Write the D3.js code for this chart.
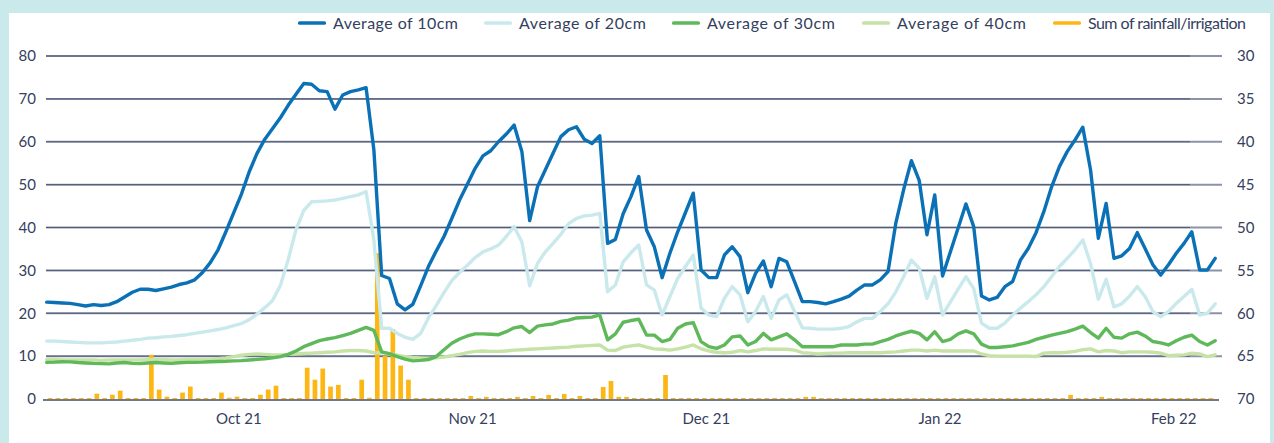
<!DOCTYPE html>
<html>
<head>
<meta charset="utf-8">
<script src="https://cdn.jsdelivr.net/npm/d3@7"></script>
<style>
  body { margin: 0; background: #c9e9ea; }
  svg { display: block; font-family: Lato, "Noto Sans", sans-serif; }
</style>
</head>
<body>
<svg id="chart" width="1274" height="443"></svg>
<script>
// soil moisture readings, one value per reading (151 readings)
let m10 = [
  22.6,22.5,22.4,22.3,22.0,21.7,22.0,21.8,22.0,22.7,
  23.8,24.9,25.6,25.6,25.3,25.7,26.1,26.7,27.1,27.8,
  29.5,31.8,34.8,39.0,43.4,47.8,53.0,57.3,60.6,63.1,
  65.6,68.5,71.1,73.6,73.4,71.9,71.7,67.6,70.9,71.7,
  72.1,72.6,58.1,28.8,28.1,22.2,20.8,22.1,26.4,30.9,
  34.5,37.9,42.1,46.4,50.1,53.8,56.7,57.9,60.0,61.8,
  63.9,57.7,41.6,49.5,53.4,57.3,61.2,62.8,63.5,60.6,
  59.6,61.4,36.3,37.2,43.2,47.2,51.9,39.4,35.5,28.3,
  34.0,39.0,43.5,48.0,30.1,28.3,28.3,33.6,35.5,33.2,
  24.8,29.3,32.2,26.2,32.8,32.0,27.4,22.7,22.7,22.5,
  22.2,22.7,23.3,24.0,25.4,26.6,26.6,27.8,29.7,41.0,
  48.8,55.6,51.0,38.3,47.6,28.7,34.3,39.9,45.5,40.2,
  24.0,23.1,23.7,26.2,27.4,32.4,35.1,38.8,43.7,49.5,
  54.2,57.7,60.4,63.4,53.4,37.5,45.6,32.8,33.4,35.1,
  38.8,35.1,31.3,28.9,31.3,34.0,36.3,39.0,30.1,30.1,
  32.8
]
let m20 = [
  13.5,13.5,13.4,13.3,13.2,13.1,13.1,13.1,13.2,13.3,
  13.5,13.7,13.9,14.2,14.3,14.5,14.6,14.8,15.0,15.3,
  15.6,15.9,16.2,16.6,17.1,17.6,18.5,19.8,21.3,23.0,
  26.5,32.5,39.5,44.0,46.0,46.1,46.2,46.4,46.8,47.2,
  47.6,48.4,37.1,16.5,16.5,15.3,14.4,13.9,15.3,18.9,
  21.8,24.8,27.6,29.5,31.2,33.0,34.3,35.0,35.9,37.9,
  40.2,36.6,26.4,31.6,34.3,36.3,38.4,40.9,42.1,42.7,
  42.9,43.3,25.0,26.6,32.0,34.1,35.9,26.6,25.4,19.6,
  23.9,28.1,30.9,33.6,21.2,19.6,19.2,23.5,26.2,24.3,
  18.0,20.4,23.9,18.8,23.1,24.3,20.4,16.6,16.5,16.3,
  16.3,16.3,16.5,16.9,18.0,18.8,18.8,20.4,22.2,25.0,
  28.5,32.4,30.5,23.5,28.5,19.6,22.6,25.6,28.5,25.8,
  17.7,16.5,16.5,17.7,19.6,21.2,22.7,24.3,26.2,28.5,
  30.9,32.8,34.8,37.1,31.6,23.3,27.9,21.5,22.2,24.0,
  26.2,23.9,20.4,19.2,20.4,22.3,23.9,25.6,19.6,20.0,
  22.2
]
let m30 = [
  8.55,8.6,8.7,8.65,8.5,8.4,8.3,8.25,8.2,8.4,
  8.5,8.3,8.25,8.4,8.5,8.4,8.3,8.45,8.55,8.55,
  8.6,8.7,8.75,8.8,8.9,8.95,9.1,9.25,9.4,9.6,
  9.9,10.4,11.2,12.2,12.9,13.6,14.0,14.3,14.8,15.3,
  16.0,16.7,16.0,11.0,10.6,9.9,9.3,8.9,9.0,9.2,
  9.9,11.5,13.0,14.0,14.7,15.2,15.2,15.1,15.0,15.7,
  16.6,16.9,15.5,17.0,17.3,17.5,18.1,18.4,18.9,19.0,
  19.1,19.6,13.8,15.2,17.9,18.3,18.6,14.9,14.9,13.4,
  13.9,16.5,17.5,17.8,13.4,12.2,11.8,12.6,14.5,14.7,
  12.6,13.4,15.3,13.8,14.5,15.2,13.8,12.2,12.2,12.2,
  12.2,12.2,12.6,12.6,12.6,12.8,12.8,13.4,13.9,14.7,
  15.3,15.8,15.3,13.8,15.7,13.4,13.9,15.2,15.9,15.2,
  12.8,12.0,12.0,12.2,12.4,12.8,13.2,13.9,14.4,14.9,
  15.3,15.7,16.3,17.0,15.5,14.2,16.5,14.4,14.2,15.2,
  15.6,14.7,13.4,13.1,12.6,13.6,14.4,14.9,13.4,12.6,
  13.6
]
let m40 = [
  9.2,9.2,9.1,9.1,9.1,9.1,9.1,9.0,9.1,9.1,
  9.1,9.1,9.1,9.2,9.2,9.2,9.1,9.1,9.2,9.2,
  9.2,9.3,9.4,9.6,9.9,10.2,10.4,10.5,10.4,10.3,
  10.3,10.4,10.5,10.6,10.7,10.8,10.9,11.0,11.2,11.3,
  11.3,11.2,10.8,10.8,10.5,10.2,9.9,9.7,9.6,9.5,
  9.6,9.8,10.1,10.4,10.8,11.1,11.2,11.1,11.1,11.2,
  11.4,11.5,11.6,11.7,11.8,11.9,12.0,12.1,12.3,12.4,
  12.5,12.6,11.4,11.3,12.1,12.4,12.6,12.1,11.7,11.6,
  11.4,11.7,12.1,12.6,11.7,11.2,10.9,10.8,10.9,11.3,
  11.0,11.3,11.7,11.6,11.6,11.6,11.4,10.8,10.7,10.5,
  10.6,10.7,10.7,10.8,10.8,10.8,10.8,10.8,10.9,11.0,
  11.2,11.4,11.4,11.2,11.4,11.2,11.2,11.2,11.2,11.2,
  10.5,10.1,10.0,10.0,10.0,10.0,10.0,9.9,10.7,10.8,
  10.8,10.9,11.1,11.5,11.7,11.0,11.3,11.2,10.8,11.0,
  11.0,11.0,10.9,10.7,10.1,10.2,10.3,10.7,10.5,9.9,
  10.3
]
// daily rainfall / irrigation (150 days)
let rain = [
  0,0,0,0,0,0,1.25,0,1.0,1.95,
  0,0,0,10.3,2.2,0.55,0,1.5,2.9,0,
  0,0,1.5,0.3,0.55,0,0,1.0,2.2,3.1,
  0,0,0,7.3,4.5,7.1,2.9,3.3,0,0,
  4.5,0.3,34,10.1,16.3,7.8,4.5,0,0,0,
  0,0,0,0,0.7,0,0.5,0.25,0.25,0,
  0.5,0,0.7,0,0.95,0,1.15,0,0.7,0,
  0,2.8,4.2,0.5,0.5,0.25,0,0,0,5.6,
  0,0,0.25,0,0,0.25,0.25,0,0,0,
  0,0,0,0.25,0,0.25,0,0.5,0.5,0,
  0,0,0,0,0,0,0,0,0,0,
  0,0,0,0,0,0,0,0,0,0,
  0.25,0,0,0.25,0,0.25,0,0,0,0,
  0,0.95,0,0,0,0.5,0,0,0,0.25,
  0,0,0.25,0,0,0,0,0,0,0.25
]

let month_ticks = [24, 54, 84, 114, 144]
let month_labels = ["Oct 21", "Nov 21", "Dec 21", "Jan 22", "Feb 22"]
let left_ticks = [0, 10, 20, 30, 40, 50, 60, 70, 80]
let right_ticks = [30, 35, 40, 45, 50, 55, 60, 65, 70]
let series_names = ["Average of 10cm", "Average of 20cm", "Average of 30cm", "Average of 40cm"]
let rain_name = "Sum of rainfall/irrigation"

let colors = {m10: "#0a71b6", m20: "#c9e9ec", m30: "#5fb95a", m40: "#c6e2a6", rain: "#fcb714"}
let text_color = "#34405e"

let plot = {left: 46.7, right: 1215.2, top: 56, bottom: 399}

function make_scales() {
  return {
    x: d3.scaleLinear().domain([0, m10.length - 1]).range([plot.left, plot.right]),
    band: d3.scaleBand().domain(d3.range(rain.length)).range([plot.left - 0.5, plot.right - 0.5]).paddingInner(0.4).paddingOuter(0.2),
    y: d3.scaleLinear().domain([0, 80]).range([plot.bottom, plot.top]),
    y2: d3.scaleLinear().domain([30, 70]).range([plot.top, plot.bottom])
  }
}

function draw_frame(svg) {
  svg.append("rect")
    .attr("x", 9).attr("y", 13)
    .attr("width", 1261).attr("height", 430)
    .attr("fill", "#ffffff")
}

function draw_grid(svg, scales) {
  let g = svg.append("g").attr("id", "grid")
  g.selectAll("line.wide")
    .data(left_ticks.filter(d => d > 0)).enter()
    .append("line")
    .attr("class", "wide")
    .attr("x1", 46).attr("x2", 1222)
    .attr("y1", d => scales.y(d)).attr("y2", d => scales.y(d))
    .attr("stroke", "#8a93a7")
    .attr("stroke-width", 2)
  g.selectAll("line.thin")
    .data(left_ticks.filter(d => d > 0)).enter()
    .append("line")
    .attr("class", "thin")
    .attr("x1", 46).attr("x2", 1190)
    .attr("y1", d => scales.y(d)).attr("y2", d => scales.y(d))
    .attr("stroke", "#1f2e52")
    .attr("stroke-width", 1)
    .attr("opacity", 0.55)

  // baseline
  g.append("line")
    .attr("x1", 43).attr("x2", 1219)
    .attr("y1", scales.y(0) + 1).attr("y2", scales.y(0) + 1)
    .attr("stroke", "#6f788d")
    .attr("stroke-width", 2)
}

function draw_bars(svg, scales) {
  svg.append("g").attr("id", "bars")
    .selectAll("rect")
    .data(rain).enter()
    .append("rect")
    .attr("x", (d, i) => scales.band(i))
    .attr("width", scales.band.bandwidth())
    .attr("y", d => Math.min(scales.y(d), scales.y(0) - 1))
    .attr("height", d => Math.max(scales.y(0) - scales.y(d), 1))
    .attr("fill", colors.rain)
}

function draw_lines(svg, scales) {
  let path_generator = d3.line()
    .x((d, i) => scales.x(i))
    .y(d => scales.y(d))

  let order = [["m40", m40], ["m30", m30], ["m20", m20], ["m10", m10]]
  svg.append("g").attr("id", "series")
    .selectAll("path")
    .data(order).enter()
    .append("path")
    .attr("d", d => path_generator(d[1]))
    .attr("fill", "none")
    .attr("stroke", d => colors[d[0]])
    .attr("stroke-width", 3.4)
    .attr("stroke-linejoin", "round")
    .attr("stroke-linecap", "round")
}

function add_axes(svg, scales) {
  let y_axis = svg.append("g")
    .attr("transform", `translate(36, 0)`)
    .call(d3.axisLeft(scales.y).tickValues(left_ticks).tickSize(0).tickPadding(0))
  let y2_axis = svg.append("g")
    .attr("transform", `translate(1237, 0)`)
    .call(d3.axisRight(scales.y2).tickValues(right_ticks).tickSize(0).tickPadding(0))
  let x_axis = svg.append("g")
    .attr("transform", `translate(${scales.band.bandwidth() / 2 - 0.5}, 413)`)
    .call(d3.axisBottom(scales.band).tickValues(month_ticks)
      .tickFormat((d, i) => month_labels[i]).tickSize(0).tickPadding(0))

  for (let a of [y_axis, y2_axis, x_axis]) {
    a.select(".domain").remove()
    a.selectAll("text")
      .attr("fill", text_color)
      .style("font-size", "15px")
      .style("font-family", "Lato, 'Noto Sans', sans-serif")
  }
}

function add_legend(svg) {
  let items = [
    {name: series_names[0], color: colors.m10, x: 298, w: 125},
    {name: series_names[1], color: colors.m20, x: 484, w: 127},
    {name: series_names[2], color: colors.m30, x: 672, w: 128},
    {name: series_names[3], color: colors.m40, x: 862, w: 129},
    {name: rain_name, color: colors.rain, x: 1053, w: 158}
  ]
  let g = svg.append("g").attr("id", "legend")
  let item = g.selectAll("g")
    .data(items).enter()
    .append("g")
    .attr("transform", d => `translate(${d.x}, 23)`)
  item.append("rect")
    .attr("x", 0).attr("y", -1.7)
    .attr("width", 28).attr("height", 3.4)
    .attr("rx", 1.5)
    .attr("fill", d => d.color)
  item.append("text")
    .attr("x", 35).attr("y", 5.5)
    .attr("fill", text_color)
    .style("font-size", "16px")
    .attr("textLength", d => d.w)
    .text(d => d.name)
}

let svg = d3.select("#chart")
let scales = make_scales()
draw_frame(svg)
draw_grid(svg, scales)
draw_bars(svg, scales)
draw_lines(svg, scales)
add_axes(svg, scales)
add_legend(svg)
</script>
</body>
</html>
